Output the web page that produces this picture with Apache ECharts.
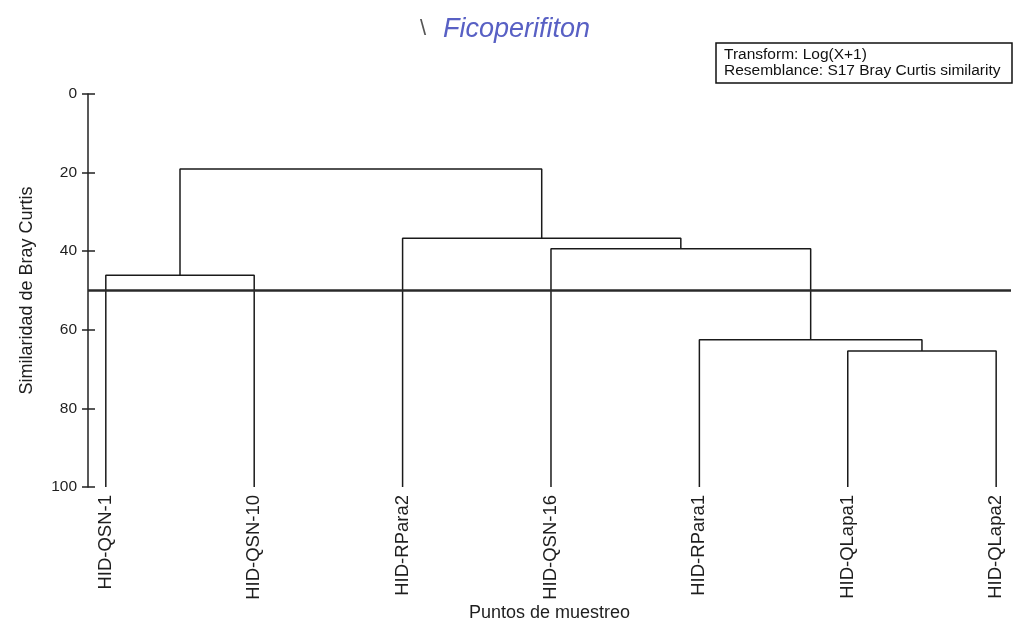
<!DOCTYPE html>
<html><head><meta charset="utf-8">
<script src="https://cdn.jsdelivr.net/npm/echarts@6/dist/echarts.min.js"></script>
<style>html,body{margin:0;padding:0;background:#fff}#c{width:1024px;height:621px}</style>
</head><body><div id="c"></div>
<script>
// ---- data ----
const leaves = ['HID-QSN-1','HID-QSN-10','HID-RPara2','HID-QSN-16','HID-RPara1','HID-QLapa1','HID-QLapa2'];
// merges: children are leaves (L#) or earlier merges (M#)
const mergeLeft   = ['L0','L5','L4','L3','L2','M0'];
const mergeRight  = ['L1','L6','M1','M2','M3','M4'];
const mergeHeight = [46.1, 65.4, 62.5, 39.4, 36.7, 19.1];
const leafLevel = 100;
const cutLevel = 50;
const yTickValues = [0, 20, 40, 60, 80, 100];
const titleText = 'Ficoperifiton';
const noteLines = ['Transform: Log(X+1)', 'Resemblance: S17 Bray Curtis similarity'];
const yName = 'Similaridad de Bray Curtis';
const xName = 'Puntos de muestreo';

// ---- build ----
const FONT = 'Liberation Sans, Arial, sans-serif';
const nodePos = {};
leaves.forEach((n, i) => { nodePos['L' + i] = [i, leafLevel]; });
const series = [];
mergeHeight.forEach((h, i) => {
  const a = nodePos[mergeLeft[i]], b = nodePos[mergeRight[i]];
  nodePos['M' + i] = [(a[0] + b[0]) / 2, h];
  series.push({
    type: 'line', xAxisIndex: 0, yAxisIndex: 0,
    data: [[a[0], a[1]], [a[0], h], [b[0], h], [b[0], b[1]]],
    symbol: 'none', silent: true, animation: false,
    lineStyle: { color: '#1a1a1a', width: 1.5 }
  });
});
series.push({
  type: 'line', data: [], silent: true, animation: false,
  markLine: {
    symbol: 'none', silent: true, animation: false,
    label: { show: false },
    lineStyle: { color: '#2a2a2a', width: 2.5, type: 'solid' },
    data: [{ yAxis: cutLevel }]
  }
});

const yBase = {
  type: 'value', inverse: true, min: 0, max: 100, interval: 20, position: 'left',
  splitLine: { show: false }
};

const chart = echarts.init(document.getElementById('c'), null, { renderer: 'canvas' });
chart.setOption({
  backgroundColor: '#ffffff',
  animation: false,
  textStyle: { fontFamily: FONT },
  grid: { left: 88, right: 13, top: 94, bottom: 134, containLabel: false, outerBoundsMode: 'none' },
  xAxis: {
    type: 'value', min: -0.12, max: 6.1,
    axisLine: { show: false, onZero: false }, axisTick: { show: false }, splitLine: { show: false },
    axisLabel: {
      customValues: leaves.map((_, i) => i),
      formatter: v => leaves[Math.round(v)] || '',
      rotate: 90, margin: 8, fontSize: 18.5, color: '#1e1e1e', fontFamily: FONT
    },
    name: xName, nameLocation: 'middle', nameGap: 117, nameMoveOverlap: false,
    nameTextStyle: { fontSize: 18, color: '#1e1e1e', fontFamily: FONT }
  },
  yAxis: [
    Object.assign({}, yBase, {
      axisLine: { show: true, onZero: false, lineStyle: { color: '#222', width: 1.5 } },
      axisTick: { show: true, length: 6, lineStyle: { color: '#222', width: 1.5 } },
      axisLabel: { fontSize: 15.5, color: '#1e1e1e', margin: 11, fontFamily: FONT,
        customValues: yTickValues },
      name: yName, nameLocation: 'middle', nameGap: 52, nameMoveOverlap: false,
      nameTextStyle: { fontSize: 18, color: '#1e1e1e', fontFamily: FONT }
    }),
    Object.assign({}, yBase, {
      axisLine: { show: false, onZero: false },
      axisTick: { show: true, inside: true, length: 7, lineStyle: { color: '#222', width: 1.5 } },
      axisLabel: { show: false }
    })
  ],
  graphic: [
    { type: 'text', left: 420, top: 18, style: { text: '\\', font: '22px ' + FONT, fill: '#555' } },
    { type: 'text', left: 443, top: 16, style: { text: titleText, font: 'italic 27px ' + FONT, fill: '#5860c4' } },
    { type: 'rect', shape: { x: 716, y: 43, width: 296, height: 40 },
      style: { fill: '#fff', stroke: '#111', lineWidth: 1.5 } },
    { type: 'text', left: 724, top: 47, style: { text: noteLines[0], font: '15.5px ' + FONT, fill: '#111' } },
    { type: 'text', left: 724, top: 63, style: { text: noteLines[1], font: '15.5px ' + FONT, fill: '#111' } }
  ],
  series: series
});
</script>
</body></html>
